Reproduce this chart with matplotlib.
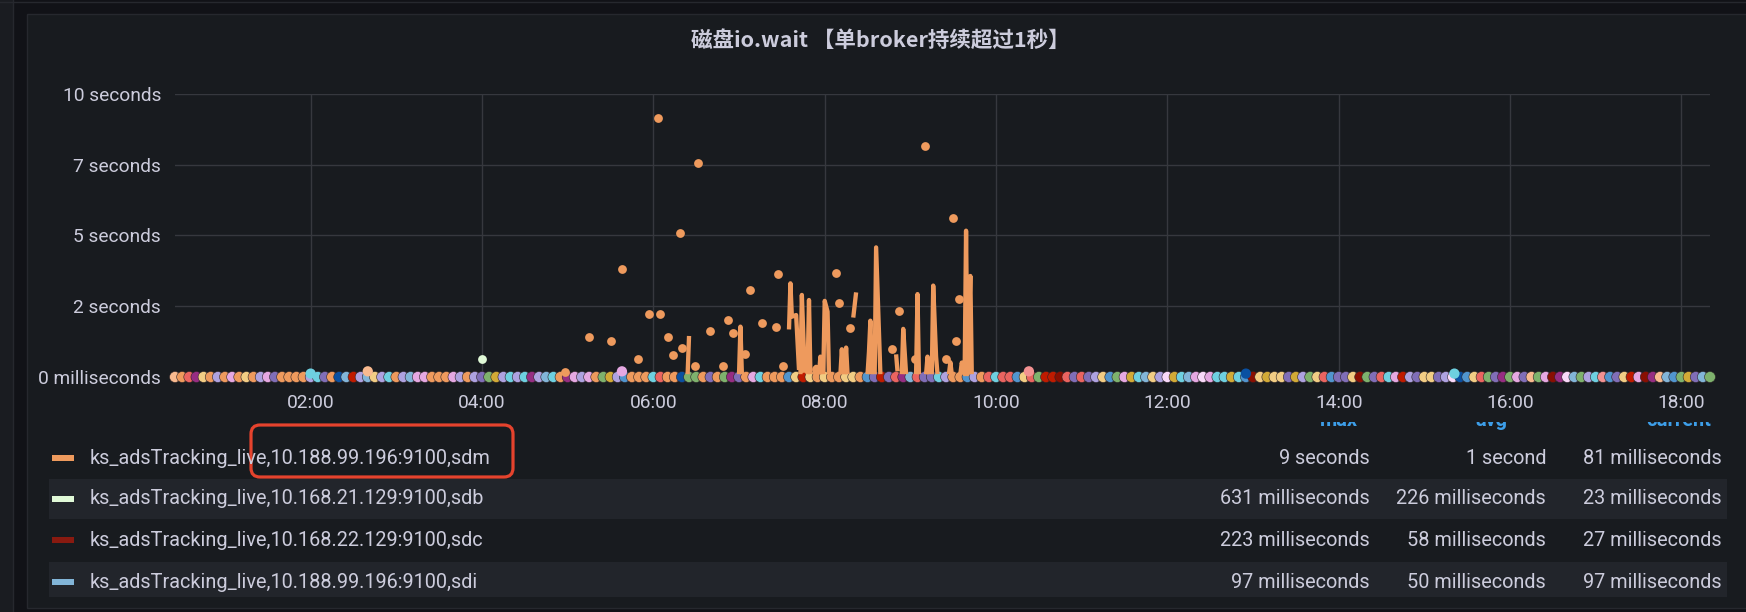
import numpy as np
import pandas as pd
import matplotlib
matplotlib.use('Agg')
import matplotlib.pyplot as plt
import matplotlib.dates as mdates
from matplotlib.patches import Rectangle, FancyBboxPatch

plt.rcParams['font.family'] = ['Roboto', 'Noto Sans CJK SC', 'DejaVu Sans']

W, H = 1746, 612
DAY = '2021-06-01 '

title = '磁盘io.wait 【单broker持续超过1秒】'

# y axis ticks (grafana rounds the labels)
y_ticks = [0, 2.5, 5, 7.5, 10]
y_labels = ['0 milliseconds', '2 seconds', '5 seconds', '7 seconds', '10 seconds']
x_ticks = ['02:00', '04:00', '06:00', '08:00', '10:00', '12:00', '14:00', '16:00', '18:00']
x_range = ('00:25', '18:20')

# sdm series, drawn as line (None = gap)
sdm_t = ['06:24', '06:25', None,
         '07:00', '07:01', '07:02', None,
         '07:35', '07:36', '07:37', '07:40', '07:42', None,
         '07:43', '07:44', '07:46', None,
         '07:48', '07:49', '07:50', None,
         '07:53', '07:54', '07:55', None,
         '07:56', '07:57', '07:58', None,
         '07:59', '08:00', '08:02', '08:03', None,
         '08:11', '08:12', '08:13', None,
         '08:14', '08:15', '08:16', None,
         '08:20', '08:22', None,
         '08:30', '08:31', '08:32', '08:33', None,
         '08:35', '08:36', '08:39', None,
         '08:50', '08:51', None,
         '08:54', '08:55', '08:57', None,
         '09:04', '09:05', '09:06', None,
         '09:11', '09:12', '09:13', None,
         '09:15', '09:16', '09:18', '09:19', None,
         '09:27', '09:28', '09:29', None,
         '09:35', '09:36', '09:38', '09:39', '09:40', '09:42', '09:43']
sdm_v = [0.1, 1.45, None,
         0.1, 1.78, 0.1, None,
         1.68, 3.31, 2.13, 2.19, 0.25, None,
         0.1, 2.90, 0.15, None,
         0.1, 2.72, 0.1, None,
         0.1, 0.36, 0.1, None,
         0.1, 0.72, 0.1, None,
         0.1, 2.69, 2.31, 0.1, None,
         0.1, 0.98, 0.1, None,
         0.1, 1.04, 0.1, None,
         2.10, 2.99, None,
         0.1, 0.89, 1.99, 0.1, None,
         0.1, 4.58, 0.1, None,
         0.80, 0.2, None,
         0.1, 1.70, 0.1, None,
         0.1, 2.93, 0.1, None,
         0.1, 0.72, 0.1, None,
         0.1, 3.23, 0.72, 0.1, None,
         0.1, 0.52, 0.1, None,
         0.1, 0.51, 0.1, 5.17, 0.1, 3.57, 0.1]

# isolated orange points
dot_t = ['06:03', '06:31', '06:19', '05:38', '05:57', '06:05', '05:15', '05:30', '05:49',
         '06:10', '06:14', '06:20', '06:40', '06:52', '06:56', '06:49', '06:29', '07:08',
         '07:16', '07:26', '07:27', '07:31', '07:04', '08:08', '08:10', '08:18', '08:52',
         '08:47', '09:10', '09:30', '09:34', '09:32', '09:25', '09:03', '04:58', '07:54']
dot_v = [9.14, 7.56, 5.09, 3.83, 2.24, 2.24, 1.41, 1.28, 0.65,
         1.40, 0.78, 1.01, 1.61, 2.00, 1.54, 0.39, 0.39, 3.07,
         1.90, 1.77, 3.63, 0.39, 0.80, 3.67, 2.63, 1.72, 2.32,
         0.98, 8.16, 5.63, 2.77, 1.28, 0.64, 0.63, 0.17, 0.30]

# sdb point
sdb_t = ['04:00']
sdb_v = [0.63]

# near-zero points of the many other series, one per 5 min step (top colour)
band_step = '5min'
band_codes = ('POSMYOLOKOYOLKVOOOOLCVONTRLTYLCOLTKKOOOKLOLVGALCLCMLTCOMKLKOGALBOOOCSOONG'
              'GOVOGMVOKCOOOBYRYOYOOYYOBVRVSMTSVVCLOOBLOSCSSBYSGRRDSVSVLYBGKACTYLWACTK'
              'WKCCACBDYAYYVALGYSBVVYDGVSCKRLVYYVLWNBYSGVMGKVPGKDMWTGLCQBVYRKDMPTBGAVTG')
raised_t = ['02:00', '02:40', '05:38', '10:23', '12:55', '15:21']
raised_v = [0.12, 0.2, 0.2, 0.2, 0.12, 0.12]
raised_c = ['C', 'P', 'K', 'Q', 'N', 'C']

palette = {'O': '#EE9A5D', 'P': '#F9BA8F', 'M': '#962D82', 'V': '#806EB7', 'L': '#AEA2E0',
           'K': '#E5A8E2', 'W': '#F9D9F9', 'Y': '#F2CD84', 'A': '#D2AA36', 'G': '#7EB26D',
           'C': '#6ED0E0', 'B': '#5195CE', 'N': '#0A50A1', 'R': '#BF1B00', 'D': '#890F02',
           'S': '#EA6460', 'T': '#82B5D8', 'Q': '#F29191'}

# legend
leg_names = ['ks_adsTracking_live,10.188.99.196:9100,sdm',
             'ks_adsTracking_live,10.168.21.129:9100,sdb',
             'ks_adsTracking_live,10.168.22.129:9100,sdc',
             'ks_adsTracking_live,10.188.99.196:9100,sdi']
leg_colors = ['#EE9A5D', '#E0F9D7', '#891A10', '#82B5D8']
leg_max = ['9 seconds', '631 milliseconds', '223 milliseconds', '97 milliseconds']
leg_avg = ['1 second', '226 milliseconds', '58 milliseconds', '50 milliseconds']
leg_cur = ['81 milliseconds', '23 milliseconds', '27 milliseconds', '97 milliseconds']
leg_headers = ['max', 'avg', 'current']

BG = '#111217'
PANEL = '#181b1f'
TXT = '#ccccdc'
GRID = '#36383e'


def tt(s):
    # "HH:MM" -> matplotlib date number, None -> nan (gap)
    if s is None:
        return np.nan
    return mdates.date2num(pd.Timestamp(DAY + s).to_pydatetime())


fig = plt.figure(figsize=(W / 100, H / 100), dpi=100, facecolor=BG)

# panel backgrounds in pixel coordinates
bg = fig.add_axes([0, 0, 1, 1], zorder=0)
bg.set_xlim(0, W)
bg.set_ylim(H, 0)
bg.set_axis_off()
bg.add_patch(Rectangle((-5, -5), 18, H + 10, fc='#1a1c21', ec='#26282e', lw=1))
bg.add_patch(Rectangle((27, 14), W, 594, fc=PANEL, ec='#26282e', lw=1))
bg.plot([0, W], [2, 2], color='#26282e', lw=1)
fig.text(0.504, 1 - 40 / H, title, color=TXT, fontsize=15.5, ha='center', va='center',
         family=['Noto Sans CJK SC', 'DejaVu Sans'], fontweight='bold')

# main plot
ax = fig.add_axes([175 / W, (H - 377) / H, (1710 - 175) / W, (377 - 94) / H], zorder=2)
ax.set_facecolor('none')
ax.xaxis_date()
ax.set_xlim(tt(x_range[0]), tt(x_range[1]))
ax.set_ylim(0, 10)
for s in ax.spines.values():
    s.set_visible(False)
ax.set_yticks(y_ticks)
ax.set_yticklabels(y_labels)
ax.set_xticks([tt(x) for x in x_ticks])
ax.xaxis.set_major_formatter(mdates.DateFormatter('%H:%M'))
ax.tick_params(length=0, colors=TXT, labelsize=13.8, pad=10)
ax.tick_params(axis='x', pad=12)
ax.grid(True, color=GRID, lw=1)
ax.set_axisbelow(True)

t0 = tt(x_range[0])
band_t = t0 + np.arange(len(band_codes)) * pd.Timedelta(band_step).total_seconds() / 86400
band_cols = [palette[c] for c in band_codes]
ax.scatter(band_t, np.zeros(len(band_t)), s=62, c=band_cols, lw=0.4, edgecolors='#2a2226',
           clip_on=False, zorder=3)
ax.scatter([tt(t) for t in raised_t], raised_v, s=55, c=[palette[c] for c in raised_c],
           lw=0, clip_on=False, zorder=3)

lt = [tt(t) for t in sdm_t]
lv = [np.nan if v is None else v for v in sdm_v]
ax.plot(lt, lv, color=leg_colors[0], lw=3.1, solid_capstyle='butt', clip_on=False, zorder=4)
ax.scatter([tt(t) for t in dot_t], dot_v, s=40, color=leg_colors[0], lw=0, clip_on=False, zorder=5)
ax.scatter([tt(t) for t in sdb_t], sdb_v, s=40, color=leg_colors[1], lw=0, clip_on=False, zorder=5)

# legend table (scrolled, header partly hidden)
leg = fig.add_axes([0, (H - 597) / H, 1, (597 - 422) / H], zorder=3)
leg.set_xlim(0, W)
leg.set_ylim(597, 422)
leg.set_axis_off()
row_y = [458, 499, 540, 582]
for i in range(len(leg_names)):
    y = row_y[i]
    if i % 2 == 1:
        leg.add_patch(Rectangle((49, y - 20), 1727 - 49, 40, fc='#22252b', ec='none'))
    leg.add_patch(Rectangle((52, y - 3), 22, 6, fc=leg_colors[i], ec='none'))
    leg.text(90, y, leg_names[i], color=TXT, fontsize=14.3, va='center', ha='left')
    leg.text(1370, y, leg_max[i], color=TXT, fontsize=14.3, va='center', ha='right')
    leg.text(1546, y, leg_avg[i], color=TXT, fontsize=14.3, va='center', ha='right')
    leg.text(1722, y, leg_cur[i], color=TXT, fontsize=14.3, va='center', ha='right')
for hx, h in zip([1358, 1507, 1711], leg_headers):
    leg.text(hx, 426, h, color='#3d9ee8', fontsize=14.3, fontweight='bold',
             va='baseline', ha='right', clip_on=True)

# red highlight box
bg.add_patch(FancyBboxPatch((251, 425), 262, 52, boxstyle='round,pad=0,rounding_size=9',
                            fc='none', ec='#E5432D', lw=2.3, zorder=10))

fig.savefig('out.png', dpi=100, facecolor=BG)
